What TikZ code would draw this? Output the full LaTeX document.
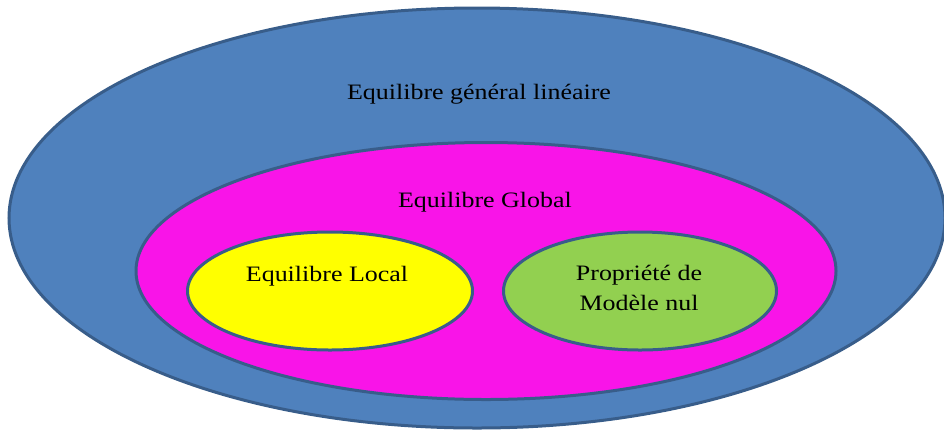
\documentclass[tikz,border=0pt]{standalone}
\usepackage{fontspec}
\setmainfont{Liberation Serif}[FakeStretch=1.18]
\usepackage{tikz}
\usetikzlibrary{shapes.geometric}

\definecolor{outerblue}{RGB}{79,129,189}
\definecolor{rimblue}{RGB}{56,93,138}
\definecolor{globalpink}{RGB}{249,20,232}
\definecolor{localyellow}{RGB}{255,255,0}
\definecolor{nulgreen}{RGB}{146,208,80}

\tikzset{
  set/.style={ellipse,draw=rimblue,line width=3pt,inner sep=0pt},
  txt/.style={font=\fontsize{22}{30}\selectfont,text=black,align=center}
}

\begin{document}
\begin{tikzpicture}[x=1pt,y=-1pt]
\useasboundingbox (0,0) rectangle (944,432);

\node[set,fill=outerblue,minimum width=936,minimum height=420] (lin) at (477,218) {};
\node[set,fill=globalpink,minimum width=700,minimum height=257] (glob) at (486,271) {};
\node[set,fill=localyellow,minimum width=285,minimum height=118] (loc) at (330,291) {};
\node[set,fill=nulgreen,minimum width=273,minimum height=118] (nul) at (640,291) {};

% labels
\node[txt] (tlin) at (479,94) {Equilibre général linéaire};
\node[txt] (tglob) at (485,202) {Equilibre Global};
\node[txt] (tloc) at (327,276) {Equilibre Local};
\node[txt] (tnul) at (639,288) {Propriété de\\Modèle nul};
\end{tikzpicture}
\end{document}
